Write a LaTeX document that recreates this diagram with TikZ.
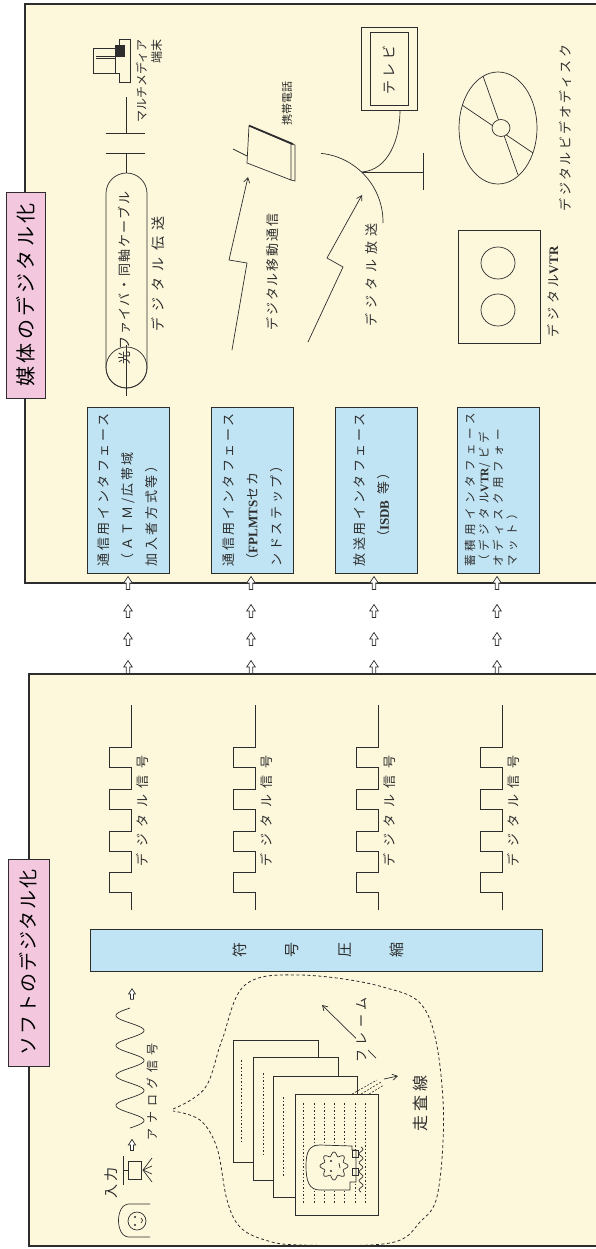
\documentclass[tikz,border=0pt]{standalone}
\usepackage{fontspec}
\setmainfont{Noto Sans CJK JP}
\newfontfamily\latin{Liberation Serif}
\usetikzlibrary{arrows.meta}
\newcommand{\lsp}[1]{\addfontfeatures{LetterSpace=#1}}
\definecolor{cream}{RGB}{253,248,220}
\definecolor{boxblue}{RGB}{192,228,243}
\definecolor{tagpink}{RGB}{243,200,222}
\definecolor{ink}{RGB}{45,45,45}
\tikzset{
  panel/.style={draw=ink, line width=1.2pt, fill=cream},
  iface/.style={draw=ink, line width=0.9pt, fill=boxblue, rotate=90,
    minimum width=166pt, minimum height=82pt, inner sep=0pt},
  tag/.style={draw=ink, line width=0.9pt, fill=tagpink, rotate=90, inner sep=0pt},
  lbl/.style={rotate=90, inner sep=0pt, text=ink},
  thin/.style={draw=ink, line width=0.7pt},
  scan/.style={draw=ink, line width=0.6pt, dash pattern=on 1.5pt off 2pt},
  barb/.style={-{Straight Barb[length=5pt,width=6pt]}},
  hup/.pic={\draw[ink, line width=0.7pt, fill=white]
    (-1.8,6.5) -- (-1.8,0) -- (-4.3,0) -- (0,-6.5) -- (4.3,0) -- (1.8,0) -- (1.8,6.5) -- cycle;}
}
\begin{document}
\begin{tikzpicture}[x=1pt,y=-1pt]
\useasboundingbox (0,0) rectangle (596,1249);
\fill[white] (0,0) rectangle (596,1249);

% ---------- the two panels ----------
\draw[panel] (25,4) rectangle (620,583);
\draw[panel] (29,674) rectangle (620,1246);
\node[tag, minimum width=206pt, minimum height=39pt,
  font=\fontsize{20pt}{24pt}\selectfont\lsp{17}] (mediaTitle) at (25.5,295) {媒体のデジタル化};
\node[tag, minimum width=207pt, minimum height=41pt,
  font=\fontsize{19pt}{24pt}\selectfont\lsp{10}] (softTitle) at (28.5,962.5) {ソフトのデジタル化};

% ---------- interface boxes ----------
\node[iface] (if1) at (128,490) {};
\node[iface] (if2) at (252.5,490) {};
\node[iface] (if3) at (376,490) {};
\node[iface] (if4) at (498.5,490) {};
\node[lbl, align=left, font=\fontsize{13pt}{24pt}\selectfont\lsp{20}] (if1text) at (128,490)
  {通信用インタフェース\\（ＡＴＭ/広帯域\\加入者方式等）};
\node[lbl, align=left, font=\fontsize{13pt}{24pt}\selectfont\lsp{20}] (if2text) at (252.5,490)
  {通信用インタフェース\\（{\latin\bfseries FPLMTS}セカ\\ンドステップ）};
\node[lbl, font=\fontsize{13pt}{24pt}\selectfont\lsp{20}] (if3text) at (360,490) {放送用インタフェース};
\node[lbl, font=\fontsize{13pt}{24pt}\selectfont\lsp{20}] (if3sub) at (384,505) {（{\latin\bfseries ISDB} 等）};
\node[lbl, align=left, font=\fontsize{11.5pt}{14pt}\selectfont\lsp{38}] (if4text) at (491,490)
  {蓄積用インタフェース\\（デジタル{\latin\bfseries VTR}/ビデ\\オディスク用フォー\\マット）};

% ---------- hollow arrows between the panels ----------
\foreach \c [count=\i] in {128,251,374,497} {
  \foreach \r [count=\j] in {583,611,639,667} {
    \pic (arr\i\j) at (\c,\r) {hup};
  }
}

% ---------- digital transmission: cable and terminal ----------
\draw[thin, rounded corners=20.5pt] (106,173) rectangle (147,388);
\draw[thin] (126.5,367.5) circle[radius=20.5];
\draw[thin] (126.5,345) -- (126.5,396);
\draw[thin] (126.5,173) -- (126.5,153);
\draw[thin] (106,153) -- (145,153);
\draw[thin] (106,133) -- (145,133);
\draw[thin] (126.5,133) -- (126.5,97);
\node[lbl, font=\fontsize{13pt}{15pt}\selectfont\lsp{12}] (cableText) at (124,278) {光ファイバ・同軸ケーブル};
\node[lbl, font=\fontsize{14pt}{16pt}\selectfont\lsp{45}] (transText) at (158,274) {デジタル伝送};
% terminal
\draw[thin, fill=cream] (93,48) rectangle (115,73);
\draw[thin] (96,56) -- (115,56);
\draw[thin] (96,58.5) -- (115,58.5);
\draw[thin, fill=cream] (130,39) -- (119,39) -- (119,45) -- (115,45) -- (115,73) -- (119,73) -- (119,82) -- (130,82) -- cycle;
\fill[ink] (115,45) rectangle (125,57);
\node[lbl, align=right, font=\fontsize{12pt}{15pt}\selectfont] (termText) at (149,81) {マルチメディア\\端末};

% ---------- mobile communication ----------
\coordinate (m0) at (232,350);
\coordinate (m1) at (247,263);
\coordinate (m2) at (229,260);
\coordinate (mTip) at (248,177);
\draw[thin, barb] (m0) -- (m1) -- (m2) -- (mTip);
\draw[thin, fill=cream] (249,126) -- (291,144) -- (291,180) -- (247,163) -- cycle;
\draw[thin] (291,144) -- (295,145) -- (295,181) -- (291,180);
\draw[ink, line width=1.6pt] (249,125.5) -- (293,144);
\draw[thin] (233,149) -- (247,156);
\node[lbl, font=\fontsize{11pt}{13pt}\selectfont] (phoneText) at (287,104) {携帯電話};
\node[lbl, font=\fontsize{13pt}{15pt}\selectfont\lsp{14}] (mobileText) at (273,272) {デジタル移動通信};

% ---------- broadcasting ----------
\coordinate (b0) at (308,342);
\coordinate (b1) at (343,267);
\coordinate (b2) at (327,258);
\coordinate (bTip) at (362,195);
\draw[thin, barb] (b0) -- (b1) -- (b2) -- (bTip);
\coordinate (dishB) at (362,172);
\draw[thin] (314,222) ++(-84:69) arc[start angle=-84, end angle=1, radius=69];
\draw[thin] (dishB) -- (423,172);
\draw[thin] (423,153) -- (423,190);
\draw[thin] (dishB) .. controls (388,170) and (400,140) .. (400,110);
\draw[thin, fill=cream] (361,27) rectangle (417,110);
\draw[thin] (370,32) rectangle (408,105);
\node[lbl, font=\fontsize{14pt}{16pt}\selectfont\lsp{28}] (tvText) at (389,70) {テレビ};
\node[lbl, font=\fontsize{13pt}{15pt}\selectfont\lsp{40}] (bcText) at (371,275) {デジタル放送};

% ---------- storage: VTR and video disc ----------
\draw[thin, fill=cream] (458,230) rectangle (540,343);
\draw[thin] (498,263) ellipse[x radius=17, y radius=16];
\draw[thin] (498,310) ellipse[x radius=17, y radius=16];
\node[lbl, font=\fontsize{13pt}{15pt}\selectfont\lsp{30}] (vtrText) at (553,292) {デジタル{\latin\bfseries VTR}};
\draw[thin] (498,128) ellipse[x radius=39, y radius=56];
\draw[thin] (462,105) -- (533,153);
\draw[thin] (483,76) -- (518,175);
\draw[thin, fill=cream] (501,128) ellipse[x radius=9, y radius=8.5];
\node[lbl, font=\fontsize{13pt}{15pt}\selectfont\lsp{19}] (discText) at (565,128) {デジタルビデオディスク};

% ---------- digital signals ----------
\foreach \R [count=\i] in {131,255,378,502} {
  \draw[thin] (\R,705) -- (\R,747) -- (\R-22,747) -- (\R-22,767) -- (\R,767) -- (\R,789)
    -- (\R-22,789) -- (\R-22,809) -- (\R,809) -- (\R,831) -- (\R-22,831) -- (\R-22,851)
    -- (\R,851) -- (\R,872) -- (\R-22,872) -- (\R-22,892) -- (\R,892) -- (\R,910);
  \node[lbl, font=\fontsize{13pt}{15pt}\selectfont\lsp{50}] (sig\i) at (\R+11,811) {デジタル信号};
}

% ---------- source coding ----------
\node[draw=ink, line width=0.9pt, fill=boxblue, minimum width=452pt, minimum height=42pt,
  inner sep=0pt] (codec) at (316,950) {};
\foreach \ch/\px in {符/240, 号/292, 圧/345, 縮/397}
  \node[lbl, font=\fontsize{15pt}{18pt}\selectfont] (cc\px) at (\px,950) {\ch};

% ---------- input ----------
% face
\draw[thin] (150,1204) -- (129,1204) .. controls (115,1204) and (115,1237) .. (129,1237) -- (150,1237);
\draw[thin] (137,1221) circle[radius=9];
\fill[ink] (135,1217) circle[radius=1.1];
\fill[ink] (135,1225) circle[radius=1.1];
\draw[thin] (141,1218) .. controls (143,1220) .. (141,1223);
\node[lbl, font=\fontsize{14pt}{16pt}\selectfont\lsp{18}] (inText) at (111,1183) {入力};
% camera
\draw[thin] (128,1161) rectangle (141,1179);
\draw[thin] (123,1156) -- (123,1185);
\draw[thin] (123,1170) -- (128,1170);
\foreach \ry in {1158,1166,1174,1182}
  \draw[thin] (143,1170) -- (152,\ry);
\pic[scale=0.85] (inArrowA) at (132,1145) {hup};
% analog signal
\draw[thin] plot[domain=0:120, samples=241, smooth] ({130+14*sin(12*\x)}, {1128-\x});
\pic[scale=0.8] (inArrowB) at (132,994) {hup};
\node[lbl, font=\fontsize{12pt}{14pt}\selectfont\lsp{42}] (anaText) at (152,1092) {アナログ信号};

% ---------- callout with frames ----------
\draw[ink, line width=0.8pt, dash pattern=on 3pt off 2.5pt] plot[smooth, tension=0.6] coordinates {
  (173,1109) (205,1088) (222,1040) (245,985) (300,975) (383,987) (427,1013) (443,1100)
  (438,1192) (420,1222) (390,1243) (300,1245) (265,1240) (240,1227) (227,1200) (217,1148)
  (200,1120) (173,1111)};
\draw[thin, fill=cream] (233,1040) rectangle (318,1162);
\draw[scan] (241,1060) -- (241,1143);
\draw[thin, fill=cream] (253,1057) rectangle (338,1180);
\draw[scan] (263,1073) -- (263,1157);
\draw[thin, fill=cream] (273,1076) rectangle (357,1197);
\draw[scan] (283,1097) -- (283,1177);
\draw[thin, fill=cream] (295,1094) rectangle (378,1215);
\foreach \x in {303,314,324,334,344,355,365}
  \draw[scan] (\x,1103) -- (\x,1203);
% portrait in the front frame
\draw[thin, fill=cream] (352,1146) -- (320,1145) .. controls (309,1145) and (306,1152) .. (306,1166)
  .. controls (306,1181) and (309,1190) .. (320,1190) -- (350,1190) -- (350,1182) -- (356,1182)
  -- (356,1150) -- (352,1150) -- cycle;
\draw[thin] plot[domain=0:360, samples=97, smooth] ({334+(12+2*cos(8*\x))*cos(\x)}, {1166+(12+2*cos(8*\x))*sin(\x)});
\fill[ink] (331,1161) circle[radius=1.1];
\fill[ink] (331,1171) circle[radius=1.1];
\draw[thin] (339,1163) -- (340,1168);
\draw[thin] (352,1150) rectangle (358,1157);
\draw[thin] (352,1168) rectangle (358,1175);
\draw[thin] plot[domain=0:45, samples=40, smooth] ({361+2*sin(40*\x)}, {1147+\x});
% frame label
\coordinate (fa) at (376,1058);
\coordinate (fb) at (322,1005);
\draw[thin, barb] (fa) -- (fb);
\node[lbl, fill=cream, inner sep=1pt, font=\fontsize{13pt}{15pt}\selectfont\lsp{35}] (frameText) at (362,1030) {フレーム};
% scanning line label
\draw[ink, line width=0.6pt, dash pattern=on 2pt off 1.5pt] (352,1094) -- (377,1080);
\draw[ink, line width=0.6pt, dash pattern=on 2pt off 1.5pt] (361,1094) -- (381,1082);
\draw[ink, line width=0.6pt, dash pattern=on 2pt off 1.5pt] (369,1094) -- (384,1085);
\coordinate (sa) at (384,1079);
\coordinate (sb) at (398,1076);
\draw[thin, barb] (sa) -- (sb);
\node[lbl, font=\fontsize{16pt}{18pt}\selectfont\lsp{25}] (scanText) at (420,1103) {走査線};
\end{tikzpicture}
\end{document}
